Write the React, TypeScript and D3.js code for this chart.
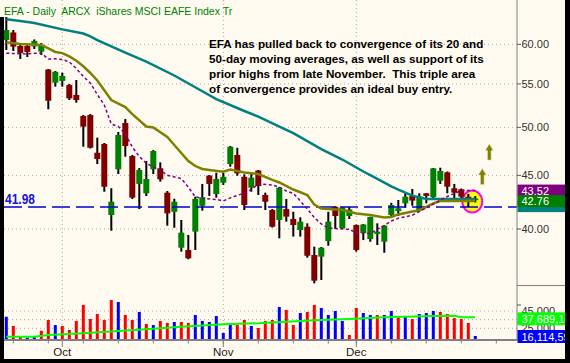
import React from 'react';
import * as d3 from 'd3';

// trading days shown (2008), plus the empty weekday slots after the last bar
const tradingDays = [
  '09-19', '09-22', '09-23', '09-24', '09-25', '09-26', '09-29', '09-30',
  '10-01', '10-02', '10-03', '10-06', '10-07', '10-08', '10-09', '10-10', '10-13', '10-14',
  '10-15', '10-16', '10-17', '10-20', '10-21', '10-22', '10-23', '10-24', '10-27', '10-28',
  '10-29', '10-30', '10-31',
  '11-03', '11-04', '11-05', '11-06', '11-07', '11-10', '11-11', '11-12', '11-13', '11-14',
  '11-17', '11-18', '11-19', '11-20', '11-21', '11-24', '11-25', '11-26', '11-28',
  '12-01', '12-02', '12-03', '12-04', '12-05', '12-08', '12-09', '12-10', '12-11', '12-12',
  '12-15', '12-16', '12-17', '12-18', '12-19', '12-22', '12-23', '12-24',
];
const futureDays = ['12-25', '12-26', '12-29'];

const opens = [
  60.57, 61.58, 59.78, 59.78, 59.72, 59.04, 56.77, 55.15, 55.36, 54.87, 53.68, 51.26, 51.37, 47.29,
  48.21, 41.25, 45.6, 50.48, 46.95, 44.16, 43.26, 45.6, 45.7, 43.32, 41.54, 38.39, 38.2, 39.77,
  42.09, 44.98, 43.19, 44.28, 46.13, 47.06, 44.86, 43.8, 45.48, 43.1, 41.7, 40.8, 41.79, 40.89,
  39.91, 40.2, 37.78, 37.64, 38.95, 42.0, 40.06, 41.16, 40.35, 39.63, 39.13, 39.57, 38.9, 41.25,
  41.61, 42.32, 43.01, 41.7, 43.26, 42.89, 44.47, 45.3, 43.74, 43.64, 42.94, 42.7,
];
const highs = [
  63.71, 61.91, 60.04, 59.91, 60.64, 60.17, 56.83, 56.58, 56.37, 54.99, 55.48, 51.37, 51.48, 48.88,
  48.31, 43.74, 49.49, 50.92, 47.06, 45.73, 46.44, 47.57, 46.3, 43.48, 42.75, 40.8, 39.48, 42.94,
  44.16, 45.03, 45.26, 45.26, 48.0, 47.81, 45.1, 45.26, 45.53, 43.32, 41.79, 43.86, 42.72, 41.54,
  41.04, 40.5, 38.48, 38.45, 41.54, 42.07, 41.98, 41.98, 40.4, 40.44, 41.1, 40.5, 40.35, 42.37,
  42.63, 43.26, 43.67, 43.26, 43.29, 45.73, 45.76, 45.38, 44.16, 43.72, 43.2, 43.0,
];
const lows = [
  59.25, 59.12, 58.1, 58.35, 59.38, 58.61, 52.03, 54.67, 54.67, 53.09, 52.78, 47.92, 47.73, 46.13,
  43.41, 39.85, 45.13, 46.88, 42.72, 41.79, 43.01, 45.13, 44.38, 40.29, 40.11, 38.06, 37.43, 38.2,
  41.64, 43.01, 42.85, 44.06, 45.86, 44.96, 41.7, 43.41, 43.1, 41.7, 40.13, 39.19, 40.65, 39.34,
  39.34, 37.56, 35.5, 35.76, 38.56, 40.0, 40.02, 40.89, 38.06, 39.04, 38.9, 38.62, 37.97, 41.04,
  41.16, 41.91, 42.1, 41.66, 42.32, 42.82, 44.16, 43.26, 42.79, 42.53, 41.97, 42.4,
];
const closes = [
  61.91, 59.7, 58.87, 59.0, 60.44, 59.78, 53.01, 56.49, 55.97, 53.29, 53.09, 50.08, 47.81, 46.64,
  43.89, 42.47, 49.17, 47.99, 42.85, 45.53, 44.64, 47.47, 44.61, 41.4, 42.47, 39.68, 37.51, 42.74,
  42.89, 44.16, 44.64, 44.86, 47.92, 45.2, 42.16, 44.77, 43.96, 42.47, 40.2, 43.8, 41.1, 40.35,
  40.65, 37.72, 35.71, 38.39, 40.65, 41.16, 41.92, 41.75, 38.2, 40.4, 41.07, 39.77, 40.29, 42.16,
  41.86, 42.94, 42.57, 42.96, 43.01, 45.7, 45.43, 43.89, 43.32, 42.94, 42.57, 42.76,
];
// volume, millions of shares
const volumes = [
  38.4, 27.7, 15.3, 14.1, 16.1, 22.2, 34.6, 28.8, 27.7, 23.1, 33.5, 52.0, 35.8, 41.5,
  34.6, 57.7, 55.4, 40.4, 34.6, 43.9, 30.0, 28.8, 33.5, 31.2, 32.3, 32.3, 31.2, 40.4,
  33.5, 32.3, 39.2, 19.6, 28.8, 28.8, 34.6, 27.7, 25.4, 33.5, 34.6, 49.6, 46.2, 28.8,
  42.7, 43.9, 52.0, 48.5, 40.4, 45.0, 33.5, 17.3, 48.5, 42.7, 40.4, 40.4, 40.4, 45.0,
  38.1, 39.2, 35.8, 41.5, 42.7, 45.0, 43.9, 41.5, 36.9, 35.8, 31.2, 16.114593,
];

// moving averages: [bar index, value]
const ma50: [number, number][] = [
  [0, 63.38], [2, 63.15], [4, 62.87], [8, 62.0], [11, 61.44], [12, 61.04], [13, 60.54], [17, 58.92],
  [20, 57.75], [24, 56.03], [28, 54.12], [30, 53.2], [34, 51.83], [36, 51.2], [40, 49.73], [41, 49.36],
  [45, 47.67], [48, 46.59], [51, 45.38], [52, 45.03], [55, 43.92], [56, 43.62], [58, 43.04], [60, 42.73],
  [67, 42.73],
];
const ma20: [number, number][] = [
  [0, 60.27], [2, 60.04], [5, 59.91], [6, 59.47], [7, 59.0], [8, 58.85], [9, 58.42], [10, 57.87],
  [11, 57.17], [12, 56.34], [13, 55.42], [15, 53.09], [17, 52.28], [18, 51.48], [20, 50.09], [21, 49.98],
  [23, 48.95], [24, 48.1], [26, 46.44], [27, 45.93], [28, 45.63], [29, 45.53], [31, 45.36], [32, 45.58],
  [34, 45.28], [36, 45.13], [38, 44.56], [39, 44.3], [41, 43.62], [43, 43.1], [44, 42.21], [45, 41.84],
  [48, 41.7], [50, 41.39], [52, 41.25], [54, 41.02], [55, 41.07], [56, 41.3], [58, 41.56], [59, 41.66],
  [61, 42.32], [62, 42.54], [67, 42.54],
];
const ma10: [number, number][] = [
  [0, 58.83], [2, 58.77], [3, 58.74], [4, 58.83], [5, 58.83], [6, 58.1], [7, 58.12], [8, 58.04],
  [9, 57.72], [10, 56.9], [11, 55.91], [12, 55.11], [13, 53.74], [14, 52.51], [15, 50.37], [16, 50.1],
  [17, 49.28], [18, 47.89], [19, 46.9], [20, 46.21], [21, 45.83], [22, 45.53], [23, 45.0], [25, 44.68],
  [26, 43.86], [27, 42.92], [28, 42.79], [30, 42.68], [31, 42.54], [32, 42.83], [34, 43.29], [35, 43.62],
  [36, 44.16], [38, 44.06], [39, 43.84], [40, 43.48], [41, 43.25], [42, 42.54], [43, 41.79], [44, 41.02],
  [45, 40.44], [46, 40.08], [47, 40.04], [49, 39.97], [50, 39.67], [52, 39.61], [54, 40.3], [55, 40.71],
  [56, 40.95], [58, 41.23], [59, 41.56], [61, 42.25], [63, 42.96], [65, 43.52], [67, 43.52],
];
const volMa: [number, number][] = [
  [0, 15.3], [4, 15.3], [6, 17.3], [11, 19.2], [16, 21.9], [20, 24.0], [25, 26.9], [31, 29.6],
  [36, 30.8], [40, 32.6], [44, 34.4], [49, 35.8], [54, 37.7], [61, 39.2], [64, 39.4], [65, 37.9],
  [67, 37.68914],
];

const priceTicks = [40, 45, 50, 55, 60];
const volGrid = [25, 35, 45];
const volLabels = [25, 45];
const supportLevel = 41.98;

const titleText = 'EFA - Daily  ARCX  iShares MSCI EAFE Index Tr';
const noteLines = [
  'EFA has pulled back to convergence of its 20 and',
  '50-day moving averages, as well as support of its',
  'prior highs from late November.  This triple area',
  'of convergence provides an ideal buy entry.',
];

const FONT = '"Liberation Sans", Arial, sans-serif';
const CREAM = '#fffaf0';
const GRID = '#a8a8a8';

export default function App() {
  const parse = d3.timeParse('%Y-%m-%d');
  const days = [...tradingDays, ...futureDays].map((s) => parse('2008-' + s) as Date);
  const n = closes.length;

  const x = d3.scaleLinear().domain([0, n - 1]).range([6.3, 475.3]);
  const y = d3.scaleLog().domain([40, 60]).range([229, 44.3]);
  const yv = d3.scaleLinear().domain([12.3, 45]).range([339.3, 311]);

  const plotL = 4, plotR = 517, axisBottom = 340, panelSplit = 285.5, frameR = 565, frameB = 359;

  const monthStarts = days
    .map((d, i) => ({ d, i }))
    .filter(({ d, i }) => i > 0 && d.getMonth() !== days[i - 1].getMonth());
  const weekTicks = days.map((d, i) => ({ d, i })).filter(({ d }) => d.getDay() === 1);

  const line = d3.line<[number, number]>().x((d) => x(d[0])).y((d) => y(d[1]));
  const vline = d3.line<[number, number]>().x((d) => x(d[0])).y((d) => yv(d[1]));

  const last = n - 1;
  const lastClose = closes[last];
  const fmtVol = (v: number) => d3.format(',')(Math.round(v * 1e6));

  // right-axis tags (stacked where they collide)
  const tagH = 12;
  const greenTop = y(lastClose) - 3.5;
  const purpleTop = y(ma10[ma10.length - 1][1]) - 6;
  const tealTop = greenTop + 5;
  const vmaLast = volMa[volMa.length - 1][1];
  const vmaTop = yv(vmaLast) - 5;
  const volTop = Math.max(yv(volumes[last]) - 6, vmaTop + 13);

  const arrow = (cx: number, tipY: number) => {
    const hw = 4, hh = 6.5, sw = 1.8, len = 16;
    return `M${cx},${tipY} L${cx + hw},${tipY + hh} L${cx + sw},${tipY + hh} L${cx + sw},${tipY + len} L${cx - sw},${tipY + len} L${cx - sw},${tipY + hh} L${cx - hw},${tipY + hh} Z`;
  };

  return (
    <div style={{ position: 'absolute', left: 0, top: 0 }}>
      <svg width={570} height={363} style={{ display: 'block' }} fontFamily={FONT}>
        <rect x={0} y={0} width={570} height={363} fill="#000" />
        <rect x={0} y={0} width={frameR} height={frameB} fill={CREAM} />

        {/* grid */}
        {priceTicks.map((t) => (
          <line key={'pg' + t} x1={plotL} x2={plotR} y1={y(t)} y2={y(t)} stroke={GRID} strokeDasharray="1 3" />
        ))}
        {volGrid.map((t) => (
          <line key={'vg' + t} x1={plotL} x2={plotR} y1={yv(t)} y2={yv(t)} stroke={GRID} strokeDasharray="1 3" />
        ))}
        {monthStarts.map(({ i }) => (
          <line key={'mg' + i} x1={x(i)} x2={x(i)} y1={0} y2={axisBottom} stroke={GRID} strokeDasharray="1 3" />
        ))}

        {/* highlight around the last two bars */}
        <ellipse cx={(x(last) + x(last - 1)) / 2 + 0.5} cy={y(lastClose) + 3} rx={10} ry={11}
          fill="#ffff00" stroke="#ff00ff" strokeWidth={2} />

        {/* candles */}
        {closes.map((c, i) => {
          const up = c >= opens[i];
          const top = y(Math.max(c, opens[i]));
          const bot = y(Math.min(c, opens[i]));
          return (
            <g key={'c' + i}>
              <line x1={x(i)} x2={x(i)} y1={y(highs[i])} y2={y(lows[i])} stroke="#000" strokeWidth={2} />
              <rect x={x(i) - 3} y={top} width={6} height={Math.max(bot - top, 1.5)} fill={up ? '#008000' : '#800000'} />
            </g>
          );
        })}

        {/* support line */}
        <line x1={plotL} x2={plotR} y1={y(supportLevel)} y2={y(supportLevel)} stroke="#0000cc" strokeWidth={1.5} strokeDasharray="18 6" />
        <text x={5} y={y(supportLevel) - 3} fontSize={14} fontWeight="bold" fill="#1414d8" textLength={30} lengthAdjust="spacingAndGlyphs">
          {supportLevel.toFixed(2)}
        </text>

        {/* moving averages */}
        <path d={line(ma50) || ''} fill="none" stroke="#008080" strokeWidth={2.5} />
        <path d={line(ma20) || ''} fill="none" stroke="#808000" strokeWidth={2.5} />
        <path d={line(ma10) || ''} fill="none" stroke="#800080" strokeWidth={1.5} strokeDasharray="3 2.5" />

        {/* arrows */}
        <path d={arrow(x(last) + 7, y(45.68))} fill="#808000" stroke="#e0dcb0" strokeWidth={0.6} />
        <path d={arrow(x(last) + 14, y(48.2))} fill="#808000" stroke="#e0dcb0" strokeWidth={0.6} />

        {/* title + note */}
        <text x={4} y={15} fontSize={10.5} fill="#008000" style={{ whiteSpace: 'pre' }}>{titleText}</text>
        {noteLines.map((t, k) => (
          <text key={'n' + k} x={209} y={47.5 + k * 15.1} fontSize={11.7} fontWeight="bold" fill="#000" style={{ whiteSpace: 'pre' }}>{t}</text>
        ))}

        {/* volume */}
        {volumes.map((v, i) => {
          const up = i === 0 ? true : closes[i] >= closes[i - 1];
          return (
            <rect key={'v' + i} x={x(i) - 1.5} y={yv(v)} width={3} height={yv(12.3) - yv(v)} fill={up ? '#0000ff' : '#ff0000'} />
          );
        })}
        <path d={vline(volMa) || ''} fill="none" stroke="#00ff00" strokeWidth={2} />

        {/* axes */}
        <line x1={plotL} x2={plotR} y1={axisBottom} y2={axisBottom} stroke="#808080" strokeWidth={2} />
        {weekTicks.map(({ i }) => (
          <line key={'wt' + i} x1={x(i)} x2={x(i)} y1={axisBottom} y2={axisBottom + 3.5} stroke="#808080" strokeWidth={1} />
        ))}
        {monthStarts.map(({ d, i }) => (
          <g key={'mt' + i}>
            <line x1={x(i)} x2={x(i)} y1={axisBottom} y2={axisBottom + 7} stroke="#808080" strokeWidth={1} />
            <text x={x(i)} y={356} fontSize={11.5} textAnchor="middle" fill="#222">{d3.timeFormat('%b')(d)}</text>
          </g>
        ))}
        <line x1={plotR} x2={plotR} y1={0} y2={axisBottom + 1} stroke="#808080" strokeWidth={1} />
        <line x1={plotR} x2={frameR} y1={panelSplit} y2={panelSplit} stroke="#808080" strokeWidth={1} />
        {priceTicks.map((t) => (
          <g key={'pt' + t}>
            <line x1={plotR} x2={plotR + 4} y1={y(t)} y2={y(t)} stroke="#555" />
            <text x={plotR + 4.5} y={y(t) + 4} fontSize={11} fill="#333">{t.toFixed(2)}</text>
          </g>
        ))}
        {volLabels.map((t) => (
          <g key={'vt' + t}>
            <line x1={plotR} x2={plotR + 4} y1={yv(t) - 6} y2={yv(t) - 6} stroke="#555" />
            <text x={plotR + 4.5} y={yv(t) + 4} fontSize={11} fill="#333">{d3.format(',')(t * 1000)}</text>
          </g>
        ))}

        {/* value tags */}
        <rect x={plotR + 0.5} y={tealTop} width={frameR - plotR} height={tagH} fill="#008080" />
        <rect x={plotR + 0.5} y={purpleTop} width={frameR - plotR} height={tagH} fill="#800080" />
        <text x={plotR + 4.5} y={purpleTop + 10} fontSize={11} fill="#fff">{ma10[ma10.length - 1][1].toFixed(2)}</text>
        <rect x={plotR + 0.5} y={greenTop} width={frameR - plotR} height={tagH} fill="#008000" />
        <text x={plotR + 4.5} y={greenTop + 10} fontSize={11} fill="#fff">{lastClose.toFixed(2)}</text>

        <rect x={plotR + 0.5} y={vmaTop} width={frameR - plotR} height={13} fill="#00ff00" />
        <text x={plotR + 4.5} y={vmaTop + 11} fontSize={11} fill="#fff">{fmtVol(vmaLast)}</text>
        <rect x={plotR + 0.5} y={volTop} width={frameR - plotR} height={13} fill="#0000ff" />
        <text x={plotR + 4.5} y={volTop + 11} fontSize={11} fill="#fff">{fmtVol(volumes[last])}</text>

        {/* frame */}
        <rect x={0} y={17} width={plotL} height={363 - 17} fill="#000" />
        <rect x={frameR} y={0} width={570 - frameR} height={363} fill="#000" />
        <rect x={0} y={frameB} width={570} height={363 - frameB} fill="#000" />
      </svg>
    </div>
  );
}
